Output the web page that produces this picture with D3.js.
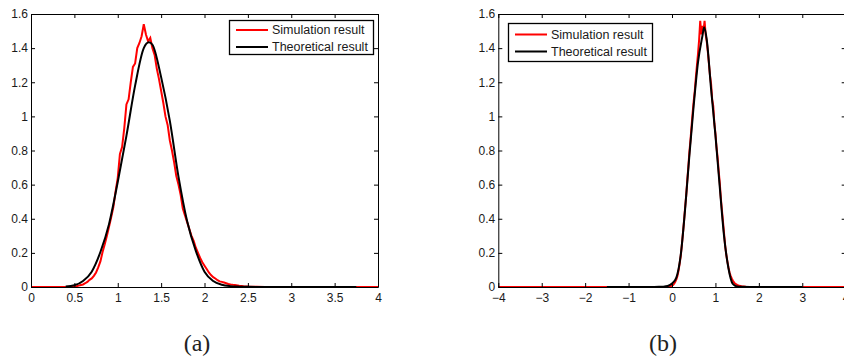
<!DOCTYPE html>
<html>
<head>
<meta charset="utf-8">
<script src="https://cdn.jsdelivr.net/npm/d3@7"></script>
<style>
  body { margin: 0; background: #fff; }
</style>
</head>
<body>
<div id="svgContainer"></div>
<script>
var width = 844;
var height = 358;

// tick values
var yTicks = [0, 0.2, 0.4, 0.6, 0.8, 1, 1.2, 1.4, 1.6];
var xTicksA = [0, 0.5, 1, 1.5, 2, 2.5, 3, 3.5, 4];
var xTicksB = [-4, -3, -2, -1, 0, 1, 2, 3, 4];
var legendLabels = ["Simulation result", "Theoretical result"];
var captions = ["(a)", "(b)"];

// panel (a): simulated histogram
var simAx = [0, 0.45, 0.475, 0.5, 0.525, 0.55, 0.575, 0.6, 0.625, 0.65, 0.675, 0.7, 0.725, 0.75, 0.775,
  0.8, 0.825, 0.85, 0.875, 0.9, 0.925, 0.95, 0.975, 1, 1.025, 1.05, 1.075, 1.1, 1.125, 1.15, 1.175,
  1.2, 1.225, 1.25, 1.275, 1.3, 1.325, 1.35, 1.375, 1.4, 1.425, 1.45, 1.475, 1.5, 1.525, 1.55, 1.575,
  1.6, 1.625, 1.65, 1.675, 1.7, 1.725, 1.75, 1.775, 1.8, 1.825, 1.85, 1.875, 1.9, 1.925, 1.95, 1.975,
  2, 2.025, 2.05, 2.075, 2.1, 2.125, 2.15, 2.175, 2.2, 2.225, 2.25, 2.275, 2.3, 2.325, 2.35, 2.4,
  2.45, 2.5, 2.6, 2.7, 4];
var simAy = [0, 0, 0.002, 0.003, 0.005, 0.008, 0.012, 0.015, 0.022, 0.03, 0.042, 0.05, 0.065, 0.085, 0.115,
  0.15, 0.205, 0.25, 0.3, 0.355, 0.41, 0.47, 0.56, 0.64, 0.78, 0.82, 0.93, 1.07, 1.1, 1.2, 1.29,
  1.31, 1.4, 1.43, 1.47, 1.54, 1.48, 1.44, 1.46, 1.4, 1.36, 1.28, 1.22, 1.15, 1.08, 1.0, 0.95,
  0.86, 0.8, 0.73, 0.65, 0.6, 0.54, 0.46, 0.42, 0.38, 0.34, 0.3, 0.27, 0.23, 0.2, 0.17, 0.145,
  0.125, 0.105, 0.085, 0.07, 0.058, 0.05, 0.04, 0.033, 0.03, 0.026, 0.022, 0.018, 0.015, 0.013, 0.012, 0.008,
  0.005, 0.003, 0.001, 0, 0];
// panel (a): theoretical curve
var theoAx = [0.4, 0.5, 0.6, 0.7, 0.8, 0.9, 1, 1.1, 1.2, 1.3, 1.36, 1.4, 1.5, 1.6, 1.7, 1.8, 1.9,
  2, 2.1, 2.2, 2.3, 2.4, 2.5, 2.75, 3, 3.5, 3.75];
var theoAy = [0.003, 0.01, 0.035, 0.09, 0.205, 0.37, 0.615, 0.886, 1.18, 1.4, 1.434, 1.42, 1.23, 0.975, 0.647, 0.385, 0.212,
  0.09, 0.035, 0.013, 0.005, 0.002, 0.001, 0, 0, 0, 0];

// panel (b): simulated histogram
var simBx = [-4, -0.2, -0.1, -0.05, -0.025, 0, 0.025, 0.05, 0.075, 0.1, 0.125, 0.15, 0.175, 0.2, 0.225,
  0.25, 0.275, 0.3, 0.325, 0.35, 0.375, 0.4, 0.425, 0.45, 0.475, 0.5, 0.525, 0.55, 0.575, 0.6, 0.625,
  0.65, 0.675, 0.7, 0.725, 0.75, 0.775, 0.8, 0.825, 0.85, 0.875, 0.9, 0.925, 0.95, 0.975, 1, 1.025,
  1.05, 1.075, 1.1, 1.125, 1.15, 1.175, 1.2, 1.225, 1.25, 1.275, 1.3, 1.325, 1.35, 1.375, 1.4, 1.425,
  1.45, 1.5, 1.55, 1.6, 1.7, 1.8, 4];
var simBy = [0, 0, 0.001, 0.003, 0.005, 0.008, 0.012, 0.02, 0.03, 0.045, 0.065, 0.095, 0.135, 0.18, 0.24,
  0.31, 0.38, 0.46, 0.53, 0.62, 0.7, 0.79, 0.86, 0.94, 1.02, 1.09, 1.15, 1.23, 1.3, 1.37, 1.45,
  1.56, 1.48, 1.53, 1.5, 1.56, 1.48, 1.44, 1.38, 1.31, 1.24, 1.19, 1.1, 1.06, 0.96, 0.9, 0.82,
  0.76, 0.68, 0.61, 0.52, 0.45, 0.38, 0.31, 0.24, 0.19, 0.15, 0.115, 0.085, 0.065, 0.05, 0.038, 0.028,
  0.02, 0.012, 0.007, 0.004, 0.001, 0, 0];
// panel (b): theoretical curve
var theoBx = [-1.5, -0.5, -0.3, -0.2, -0.1, 0, 0.1, 0.2, 0.3, 0.4, 0.5, 0.6, 0.7, 0.74, 0.8, 0.9,
  1, 1.1, 1.2, 1.3, 1.4, 1.5, 1.6, 2, 3];
var theoBy = [0, 0, 0.001, 0.002, 0.006, 0.02, 0.055, 0.185, 0.451, 0.77, 1.065, 1.32, 1.47, 1.522, 1.45, 1.16,
  0.89, 0.585, 0.295, 0.11, 0.018, 0.003, 0.001, 0, 0];

var svgContainer = d3.select("#svgContainer").append("svg")
  .attr("width", width)
  .attr("height", height);

svgContainer.append("rect")
  .attr("width", width)
  .attr("height", height)
  .attr("fill", "white");

var sans = "'Liberation Sans', Arial, sans-serif";

var drawPanel = function(p) {
  var x = d3.scaleLinear().domain(p.domain).range(p.xRange);
  var y = d3.scaleLinear().domain([0, 1.6]).range([287, 14]);
  var g = svgContainer.append("g");
  var fmt = d3.format("~g");

  var sim = p.simX.map(function(v, i) { return [v, p.simY[i]]; });
  var theo = p.theoX.map(function(v, i) { return [v, p.theoY[i]]; });

  g.append("path")
    .datum(sim)
    .attr("fill", "none")
    .attr("stroke", "#ff0000")
    .attr("stroke-width", 2)
    .attr("stroke-linejoin", "miter")
    .attr("d", d3.line()
      .x(function(d) { return x(d[0]); })
      .y(function(d) { return y(d[1]); }));

  g.append("path")
    .datum(theo)
    .attr("fill", "none")
    .attr("stroke", "#000")
    .attr("stroke-width", 2)
    .attr("d", d3.line().curve(d3.curveMonotoneX)
      .x(function(d) { return x(d[0]); })
      .y(function(d) { return y(d[1]); }));

  // axes, ticks pointing inward on every side
  g.append("g").attr("transform", "translate(0,287)")
    .call(d3.axisBottom(x).tickValues(p.xTicks).tickFormat(fmt)
      .tickSizeInner(-4).tickSizeOuter(0).tickPadding(6));
  g.append("g").attr("transform", "translate(" + p.xRange[0] + ",0)")
    .call(d3.axisLeft(y).tickValues(yTicks).tickFormat(fmt)
      .tickSizeInner(-4).tickSizeOuter(0).tickPadding(3));
  g.append("g").attr("transform", "translate(0,14)")
    .call(d3.axisTop(x).tickValues(p.xTicks).tickFormat("")
      .tickSizeInner(-4).tickSizeOuter(0));
  g.append("g").attr("transform", "translate(" + p.xRange[1] + ",0)")
    .call(d3.axisRight(y).tickValues(yTicks).tickFormat("")
      .tickSizeInner(-4).tickSizeOuter(0));

  g.selectAll(".domain, .tick line").attr("stroke", "#000");
  g.selectAll(".tick text")
    .style("font-size", "12px")
    .style("font-family", sans)
    .attr("fill", "#1a1a1a");

  // legend
  var lg = g.append("g").attr("transform", "translate(" + p.legend[0] + "," + p.legend[1] + ")");
  lg.append("rect")
    .attr("x", 0.5).attr("y", 0.5)
    .attr("width", 144).attr("height", p.legend[2])
    .attr("fill", "white")
    .attr("stroke", "#000")
    .attr("stroke-width", 1.3);
  var colors = ["#ff0000", "#000"];
  legendLabels.forEach(function(label, i) {
    var cy = p.legend[3] + i * 17;
    lg.append("line")
      .attr("x1", 7).attr("x2", 39)
      .attr("y1", cy).attr("y2", cy)
      .attr("stroke", colors[i])
      .attr("stroke-width", 2);
    lg.append("text")
      .attr("x", 43).attr("y", cy)
      .attr("dy", "0.35em")
      .style("font-size", "12.5px")
      .style("font-family", sans)
      .attr("fill", "#1a1a1a")
      .text(label);
  });

  svgContainer.append("text")
    .attr("x", p.caption[0]).attr("y", 351)
    .attr("text-anchor", "middle")
    .style("font-family", "'Liberation Serif', 'Times New Roman', serif")
    .style("font-size", "24px")
    .attr("fill", "#222")
    .text(p.caption[1]);
};

drawPanel({
  domain: [0, 4], xRange: [31, 378], xTicks: xTicksA,
  simX: simAx, simY: simAy, theoX: theoAx, theoY: theoAy,
  legend: [229, 20, 34, 10], caption: [197, captions[0]]
});

drawPanel({
  domain: [-4, 4], xRange: [498.3, 845.7], xTicks: xTicksB,
  simX: simBx, simY: simBy, theoX: theoBx, theoY: theoBy,
  legend: [508, 23, 38, 11.5], caption: [663, captions[1]]
});
</script>
</body>
</html>
